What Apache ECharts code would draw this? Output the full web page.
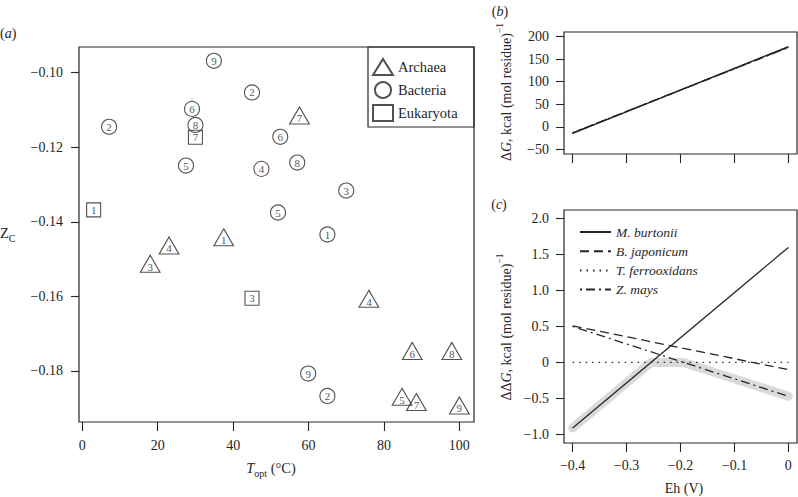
<!DOCTYPE html>
<html>
<head>
<meta charset="utf-8">
<script src="https://cdn.jsdelivr.net/npm/echarts/dist/echarts.min.js"></script>
<style>
html,body{margin:0;padding:0;background:#fff;}
#c{width:798px;height:497px;}
</style>
</head>
<body>
<div id="c"></div>
<script>
// ---------- Panel (a): Z_C vs T_opt ----------
const archaeaT = [57.6, 37.5, 23.0, 18.0, 76.0, 87.5, 98.0, 84.8, 88.6, 100.0];
const archaeaZ = [-0.1122, -0.1449, -0.1471, -0.1520, -0.1614, -0.1754, -0.1754, -0.1877, -0.1891, -0.1900];
const archaeaN = ['7', '1', '4', '3', '4', '6', '8', '5', '7', '9'];

const bacteriaT = [34.9, 45.0, 29.1, 7.1, 30.0, 52.5, 27.5, 47.5, 57.0, 70.0, 51.9, 65.0, 59.9, 65.0];
const bacteriaZ = [-0.0968, -0.1053, -0.1097, -0.1145, -0.1140, -0.1172, -0.1249, -0.1258, -0.1241, -0.1316, -0.1375, -0.1434, -0.1807, -0.1867];
const bacteriaN = ['9', '2', '6', '2', '8', '6', '5', '4', '8', '3', '5', '1', '9', '2'];

const eukT = [30.0, 3.0, 45.0];
const eukZ = [-0.1173, -0.1368, -0.1605];
const eukN = ['7', '1', '3'];

const domainNames = ['Archaea', 'Bacteria', 'Eukaryota'];
const aTicksX = [0, 20, 40, 60, 80, 100];
const aTicksY = [-0.18, -0.16, -0.14, -0.12, -0.10];

// ---------- Panels (b) and (c) ----------
const species = ['M. burtonii', 'B. japonicum', 'T. ferrooxidans', 'Z. mays'];
const eh = [-0.4, 0];
const dgMb = [-14.5, 177.6];
const dgBj = [-13.1, 176.3];
const dgTf = [-13.6, 176.4];
const dgZm = [-13.1, 175.9];

const ddgMb = [-0.912, 1.60];
const ddgBj = [0.51, -0.10];
const ddgTf = [0, 0];
const ddgZm = [0.50, -0.47];

// lowest curve (grey band)
const lowEh = [-0.4, -0.255, -0.194, 0];
const lowVal = [-0.912, 0, 0, -0.47];

const ehTicks = [-0.4, -0.3, -0.2, -0.1, 0];
const bTicksY = [-50, 0, 50, 100, 150, 200];
const cTicksY = [-1.0, -0.5, 0, 0.5, 1.0, 1.5, 2.0];

// ---------- styling ----------
const FONT = "'Liberation Serif', 'DejaVu Serif', serif";
const INK = '#262626';
const MINUS = '\u2212';
const sgn = (v, s) => (v < 0 ? MINUS : '') + s;

const zip3 = (a, b, c) => a.map((v, i) => [v, b[i], c[i]]);
const zip2 = (a, b) => a.map((v, i) => [v, b[i]]);

function axisCommon(ticks, fmt, margin, tickLen) {
  return {
    type: 'value',
    axisLine: { show: false, onZero: false },
    splitLine: { show: false },
    axisTick: { show: true, customValues: ticks, length: tickLen, lineStyle: { color: INK, width: 1.1 } },
    axisLabel: { show: true, customValues: ticks, formatter: fmt, margin: margin, fontFamily: FONT, fontSize: 14, color: INK }
  };
}

const markerLabel = {
  show: true, position: 'inside', formatter: p => p.value[2],
  fontFamily: FONT, fontSize: 11, color: INK
};
const hollow = { color: 'rgba(0,0,0,0)', borderColor: INK, borderWidth: 1.1 };

const lineStyles = [
  { color: INK, width: 1.3, type: 'solid' },
  { color: INK, width: 1.3, type: [9, 5] },
  { color: INK, width: 1.3, type: [1.5, 5] },
  { color: INK, width: 1.3, type: [2, 4, 9, 4] }
];
const ddg = [ddgMb, ddgBj, ddgTf, ddgZm];
const dg = [dgMb, dgBj, dgTf, dgZm];

const series = [];
series.push({
  name: 'lowest', type: 'line', xAxisIndex: 2, yAxisIndex: 2, data: zip2(lowEh, lowVal),
  symbol: 'none', silent: true, z: 1,
  lineStyle: { color: '#dadada', width: 9, cap: 'round', join: 'round' }
});
species.forEach((s, i) => {
  series.push({
    name: s, type: 'line', xAxisIndex: 2, yAxisIndex: 2, data: zip2(eh, ddg[i]),
    symbol: 'none', z: 3, itemStyle: { color: INK }, lineStyle: Object.assign({ cap: 'butt' }, lineStyles[i])
  });
});
species.forEach((s, i) => {
  series.push({
    name: s + ' ', type: 'line', xAxisIndex: 1, yAxisIndex: 1, data: zip2(eh, dg[i]),
    symbol: 'none', z: 3, itemStyle: { color: INK }, lineStyle: Object.assign({ cap: 'butt' }, lineStyles[i])
  });
});
series.push({
  name: 'Archaea', type: 'scatter', xAxisIndex: 0, yAxisIndex: 0,
  data: zip3(archaeaT, archaeaZ, archaeaN), symbol: 'triangle', symbolSize: [19.7, 17],
  symbolOffset: [0, -2.8], itemStyle: hollow,
  label: Object.assign({}, markerLabel, { offset: [0, 2.8] })
});
series.push({
  name: 'Bacteria', type: 'scatter', xAxisIndex: 0, yAxisIndex: 0,
  data: zip3(bacteriaT, bacteriaZ, bacteriaN), symbol: 'circle', symbolSize: 15,
  itemStyle: hollow, label: markerLabel
});
series.push({
  name: 'Eukaryota', type: 'scatter', xAxisIndex: 0, yAxisIndex: 0,
  data: zip3(eukT, eukZ, eukN), symbol: 'rect', symbolSize: 14,
  itemStyle: hollow, label: markerLabel
});

const tx = (fs, extra) => Object.assign({ fontFamily: FONT, fontSize: fs, fill: INK, color: INK }, extra || {});

const option = {
  animation: false,
  backgroundColor: '#fff',
  grid: [
    { left: 79, top: 47, width: 395, height: 375, show: true, borderColor: INK, borderWidth: 1.2, backgroundColor: 'transparent' },
    { left: 564, top: 32, width: 233, height: 122, show: true, borderColor: INK, borderWidth: 1.2, backgroundColor: 'transparent' },
    { left: 564, top: 210, width: 233, height: 233, show: true, borderColor: INK, borderWidth: 1.2, backgroundColor: 'transparent' }
  ],
  xAxis: [
    Object.assign(axisCommon(aTicksX, v => String(v), 16, 9), { gridIndex: 0, min: -0.88, max: 103.88 }),
    Object.assign(axisCommon(ehTicks, () => '', 16, 9), { gridIndex: 1, min: -0.416, max: 0.016 }),
    Object.assign(axisCommon(ehTicks, v => v === 0 ? '0' : sgn(v, Math.abs(v).toFixed(1)), 15, 9), { gridIndex: 2, min: -0.416, max: 0.016 })
  ],
  yAxis: [
    Object.assign(axisCommon(aTicksY, v => sgn(v, Math.abs(v).toFixed(2)), 16, 8), { gridIndex: 0, min: -0.1937, max: -0.0931 }),
    Object.assign(axisCommon(bTicksY, v => sgn(v, String(Math.abs(v))), 15, 8), { gridIndex: 1, min: -60, max: 210 }),
    Object.assign(axisCommon(cTicksY, v => v === 0 ? '0' : sgn(v, Math.abs(v).toFixed(1)), 15, 8), { gridIndex: 2, min: -1.12, max: 2.12 })
  ],
  legend: [
    {
      data: domainNames, orient: 'vertical', left: 372, top: 58, padding: 0, itemWidth: 20, itemHeight: 16, itemGap: 5,
      selectedMode: false, textStyle: { fontFamily: FONT, fontSize: 14.5, color: INK }
    },
    {
      data: species, orient: 'vertical', left: 579, top: 225, padding: 0, itemWidth: 31, itemHeight: 14, itemGap: 5.2,
      selectedMode: false, itemStyle: { opacity: 0 },
      textStyle: { fontFamily: FONT, fontSize: 13.5, fontStyle: 'italic', color: INK }
    }
  ],
  graphic: [
    { type: 'rect', shape: { x: 368, y: 47, width: 106, height: 80 }, style: { fill: 'none', stroke: INK, lineWidth: 1.2 }, silent: true },
    { type: 'text', x: 0, y: 33, style: { text: '{n|(}{i|a}{n|)}', align: 'left', verticalAlign: 'middle',
        rich: { n: tx(14), i: tx(14, { fontStyle: 'italic' }) } } },
    { type: 'text', x: 500, y: 11, style: { text: '{n|(}{i|b}{n|)}', align: 'center', verticalAlign: 'middle',
        rich: { n: tx(14), i: tx(14, { fontStyle: 'italic' }) } } },
    { type: 'text', x: 499, y: 204, style: { text: '{n|(}{i|c}{n|)}', align: 'center', verticalAlign: 'middle',
        rich: { n: tx(14), i: tx(14, { fontStyle: 'italic' }) } } },
    { type: 'text', x: 271, y: 468, style: { text: '{i|T}{s|opt}{n| (°C)}', align: 'center', verticalAlign: 'middle',
        rich: { i: tx(14.5, { fontStyle: 'italic', lineHeight: 20 }), n: tx(14.5, { lineHeight: 20 }), s: tx(10, { lineHeight: 10, verticalAlign: 'bottom' }) } } },
    { type: 'text', x: 0, y: 233, style: { text: '{n|Z}{s|C}', align: 'left', verticalAlign: 'middle',
        rich: { n: tx(14.5, { lineHeight: 20 }), s: tx(10, { lineHeight: 10, verticalAlign: 'bottom' }) } } },
    { type: 'text', x: 684, y: 488, style: { text: 'Eh (V)', align: 'center', verticalAlign: 'middle', fontFamily: FONT, fontSize: 14, fill: INK } },
    { type: 'text', x: 506, y: 92, rotation: Math.PI / 2, style: { text: '{n|Δ}{i|G}{n|, kcal (mol residue)}{s|−1}', align: 'center', verticalAlign: 'middle',
        rich: { n: tx(14, { lineHeight: 22 }), i: tx(14, { fontStyle: 'italic', lineHeight: 22 }), s: tx(9.5, { lineHeight: 10, verticalAlign: 'top' }) } } },
    { type: 'text', x: 506, y: 327, rotation: Math.PI / 2, style: { text: '{n|ΔΔ}{i|G}{n|, kcal (mol residue)}{s|−1}', align: 'center', verticalAlign: 'middle',
        rich: { n: tx(14, { lineHeight: 22 }), i: tx(14, { fontStyle: 'italic', lineHeight: 22 }), s: tx(9.5, { lineHeight: 10, verticalAlign: 'top' }) } } }
  ],
  series: series
};

const chart = echarts.init(document.getElementById('c'), null, { renderer: 'svg' });
chart.setOption(option);
</script>
</body>
</html>
